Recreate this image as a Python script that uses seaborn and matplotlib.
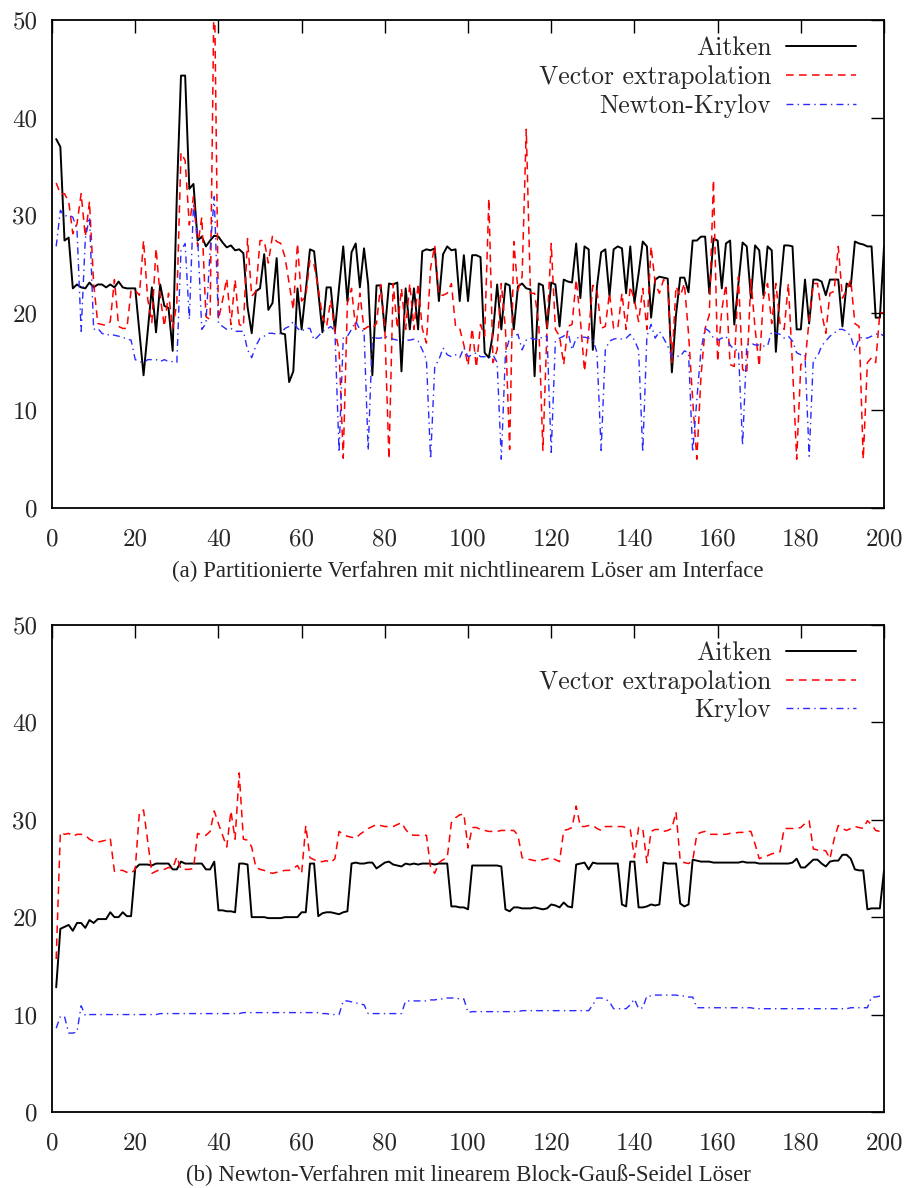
import numpy as np
import pandas as pd
import seaborn as sns
import matplotlib
matplotlib.use("Agg")
import matplotlib.pyplot as plt

# iteration index (time steps)
steps = list(range(1, 201))

# (a) partitioned schemes with nonlinear solver at the interface
aitken_a = [
    37.8, 37.0, 27.4, 27.7, 22.5, 22.9, 22.6, 22.5, 23.1, 22.6,
    22.9, 22.9, 22.6, 22.9, 22.6, 23.2, 22.6, 22.5, 22.5, 22.5,
    18.1, 13.6, 18.1, 22.6, 18.0, 22.9, 20.7, 20.5, 16.1, 32.0,
    44.3, 44.3, 32.7, 33.2, 27.4, 27.8, 26.8, 27.4, 27.9, 27.8,
    27.2, 26.7, 26.9, 26.4, 26.5, 26.1, 20.6, 17.9, 22.2, 22.5,
    26.0, 20.3, 21.0, 25.6, 17.9, 17.8, 12.9, 14.0, 22.5, 18.3,
    22.3, 26.5, 26.3, 22.2, 18.0, 22.6, 22.6, 18.1, 22.6, 26.8,
    21.2, 26.2, 27.1, 22.6, 26.6, 22.9, 13.6, 22.8, 22.8, 18.1,
    23.0, 22.9, 23.1, 14.0, 22.5, 18.3, 22.5, 18.3, 26.3, 26.5,
    26.4, 26.6, 21.2, 26.0, 26.8, 26.4, 26.5, 21.2, 25.9, 21.2,
    25.9, 25.9, 25.7, 15.9, 15.4, 17.9, 22.9, 18.3, 23.0, 22.8,
    18.3, 22.7, 23.0, 22.5, 22.4, 13.5, 23.0, 22.8, 18.4, 23.1,
    22.9, 18.6, 23.4, 23.2, 23.1, 27.1, 21.5, 26.8, 26.5, 16.2,
    22.7, 26.2, 26.5, 21.7, 26.5, 26.8, 26.6, 22.0, 26.8, 21.0,
    24.0, 27.3, 26.8, 19.5, 23.4, 23.7, 23.6, 23.5, 13.9, 19.8,
    23.6, 23.6, 22.1, 27.4, 27.4, 27.8, 27.8, 22.0, 27.6, 27.4,
    22.5, 27.1, 27.4, 18.8, 23.0, 27.2, 26.8, 21.5, 26.9, 26.4,
    21.8, 26.8, 26.4, 16.0, 22.3, 26.9, 26.9, 26.8, 18.3, 18.3,
    23.4, 18.9, 23.4, 23.4, 23.2, 21.8, 23.4, 23.4, 23.4, 18.6,
    23.0, 22.7, 27.3, 27.1, 27.0, 26.8, 26.8, 19.5, 19.5, 26.8,
]
vector_a = [
    33.3, 32.2, 32.2, 31.4, 28.1, 29.1, 32.2, 27.8, 31.4, 23.0,
    18.9, 18.8, 18.7, 19.1, 23.4, 18.6, 18.4, 18.4, 22.3, 22.3,
    21.8, 27.4, 21.4, 19.0, 26.6, 21.7, 18.6, 22.0, 18.4, 21.0,
    36.4, 35.6, 29.0, 31.9, 26.8, 29.8, 19.6, 19.3, 55.0, 19.3,
    21.3, 23.5, 18.8, 23.4, 18.8, 18.6, 27.6, 21.7, 22.2, 27.4,
    27.4, 25.1, 27.9, 27.3, 27.1, 25.7, 23.0, 20.3, 27.1, 21.2,
    21.7, 25.4, 24.9, 22.5, 19.6, 18.6, 21.3, 18.1, 16.2, 5.1,
    21.0, 22.5, 18.3, 22.0, 18.3, 18.6, 18.4, 18.9, 22.9, 18.4,
    5.0, 23.0, 18.4, 22.5, 18.3, 23.0, 18.3, 23.0, 18.4, 16.9,
    24.6, 26.9, 21.8, 21.8, 22.0, 23.0, 18.6, 18.4, 16.7, 14.6,
    18.4, 14.4, 18.8, 17.6, 31.7, 14.9, 16.2, 23.0, 18.3, 6.0,
    27.3, 22.3, 23.7, 38.8, 22.0, 22.0, 18.9, 5.9, 18.6, 27.1,
    18.3, 17.6, 14.7, 18.6, 18.8, 23.4, 19.3, 14.0, 18.1, 22.8,
    22.3, 18.4, 18.6, 22.0, 18.4, 18.4, 22.0, 18.3, 22.7, 21.3,
    19.1, 22.5, 18.3, 26.8, 23.0, 22.0, 23.4, 23.0, 14.9, 22.7,
    21.7, 23.0, 17.9, 11.1, 5.0, 13.5, 18.4, 19.8, 33.6, 15.0,
    20.3, 22.9, 14.7, 14.5, 23.7, 14.2, 13.8, 23.4, 18.4, 14.5,
    21.5, 23.0, 18.9, 23.0, 18.9, 18.3, 23.0, 14.5, 5.0, 14.7,
    14.9, 19.3, 23.0, 23.0, 20.0, 17.9, 22.0, 22.2, 26.8, 21.5,
    22.3, 23.4, 18.9, 18.6, 5.0, 14.9, 15.4, 14.9, 20.0, 20.0,
]
newton_krylov_a = [
    26.8, 30.5, 29.9, 30.0, 29.8, 28.5, 18.1, 27.6, 29.8, 18.3,
    18.4, 17.9, 17.7, 17.8, 17.7, 17.6, 17.5, 17.3, 17.2, 15.2,
    15.0, 14.9, 15.2, 15.2, 15.2, 15.0, 15.2, 15.0, 15.0, 14.9,
    26.4, 27.1, 19.3, 31.0, 27.8, 18.3, 18.9, 26.4, 31.9, 18.9,
    18.6, 18.3, 18.4, 18.1, 18.1, 18.1, 16.2, 15.4, 16.6, 17.4,
    17.6, 17.9, 17.9, 17.8, 17.9, 18.4, 18.6, 19.1, 18.4, 18.1,
    18.4, 18.4, 17.2, 17.6, 18.1, 18.3, 18.6, 18.1, 5.7, 17.4,
    17.6, 18.3, 19.1, 18.3, 18.1, 5.9, 17.6, 17.4, 17.4, 17.6,
    17.4, 17.3, 17.2, 17.2, 17.2, 17.2, 17.3, 17.1, 16.2, 15.2,
    5.0, 14.5, 15.2, 16.4, 15.7, 15.5, 15.7, 15.4, 16.4, 15.5,
    15.7, 15.9, 15.5, 15.5, 15.4, 15.7, 14.9, 5.0, 15.9, 17.4,
    17.6, 17.8, 16.2, 17.2, 17.4, 17.3, 17.2, 17.6, 17.6, 5.7,
    17.1, 17.4, 17.6, 18.1, 16.2, 17.4, 17.5, 17.5, 17.4, 17.3,
    15.9, 5.9, 16.2, 17.1, 17.3, 17.4, 17.3, 17.4, 17.8, 17.2,
    16.2, 5.7, 17.6, 18.8, 17.4, 18.1, 17.4, 16.6, 15.5, 15.6,
    15.5, 16.1, 15.9, 5.7, 11.1, 16.2, 18.4, 18.1, 17.4, 17.2,
    17.4, 17.6, 16.7, 16.2, 16.2, 6.4, 16.7, 16.9, 16.7, 16.7,
    16.6, 16.6, 18.1, 17.9, 17.8, 17.4, 17.6, 17.1, 15.9, 15.7,
    15.7, 5.3, 15.2, 15.5, 16.6, 17.1, 17.6, 17.9, 18.3, 18.3,
    18.1, 17.6, 16.1, 17.4, 17.5, 17.4, 17.6, 17.8, 17.9, 17.6,
]

# (b) Newton method with linear block Gauss-Seidel solver
aitken_b = [
    12.8, 18.8, 19.0, 19.2, 18.6, 19.4, 19.4, 18.9, 19.7, 19.4,
    19.8, 19.8, 19.8, 20.5, 20.0, 20.0, 20.5, 20.1, 20.1, 25.0,
    25.4, 25.4, 25.4, 25.3, 25.5, 25.5, 25.5, 25.5, 24.9, 24.9,
    25.7, 25.5, 25.5, 25.5, 25.5, 25.5, 24.9, 24.9, 25.7, 20.7,
    20.7, 20.6, 20.6, 20.5, 25.5, 25.5, 25.4, 20.0, 20.0, 20.0,
    20.0, 19.9, 19.9, 19.9, 19.9, 20.0, 20.0, 20.0, 20.0, 20.5,
    20.5, 25.5, 25.5, 20.1, 20.4, 20.5, 20.5, 20.4, 20.3, 20.5,
    20.6, 25.5, 25.6, 25.5, 25.5, 25.6, 25.6, 25.0, 25.3, 25.6,
    25.7, 25.4, 25.3, 25.2, 25.5, 25.4, 25.5, 25.4, 25.5, 25.5,
    25.5, 25.4, 25.5, 25.5, 25.5, 21.1, 21.1, 21.0, 21.0, 20.8,
    25.3, 25.3, 25.3, 25.3, 25.3, 25.3, 25.3, 25.2, 20.8, 20.6,
    21.0, 21.0, 20.9, 20.9, 20.9, 21.0, 20.9, 20.8, 20.9, 21.3,
    21.2, 21.0, 21.5, 21.1, 21.0, 25.4, 25.5, 25.6, 24.9, 25.6,
    25.5, 25.5, 25.5, 25.5, 25.5, 25.5, 21.3, 21.1, 25.7, 25.7,
    21.0, 21.0, 21.1, 21.3, 21.2, 21.3, 25.6, 25.5, 25.5, 25.5,
    21.4, 21.1, 21.3, 25.9, 25.8, 25.7, 25.7, 25.7, 25.6, 25.6,
    25.6, 25.6, 25.6, 25.6, 25.6, 25.7, 25.6, 25.6, 25.6, 25.5,
    25.5, 25.5, 25.5, 25.5, 25.5, 25.5, 25.5, 25.6, 26.0, 25.1,
    25.1, 25.5, 25.9, 25.9, 25.5, 25.2, 25.7, 25.8, 25.8, 26.4,
    26.4, 26.0, 24.9, 24.8, 24.8, 20.8, 20.9, 20.9, 20.9, 24.8,
]
vector_b = [
    15.7, 28.7, 28.5, 28.6, 28.3, 28.5, 28.5, 28.4, 28.0, 27.8,
    27.7, 27.8, 27.9, 28.1, 24.7, 24.8, 24.8, 24.6, 24.5, 24.9,
    30.8, 31.0, 27.8, 24.5, 24.7, 24.9, 24.9, 25.1, 25.0, 26.2,
    24.9, 24.9, 24.9, 25.0, 28.6, 28.4, 28.4, 28.8, 30.9, 29.6,
    28.4, 27.2, 30.9, 28.0, 34.8, 28.0, 27.9, 27.2, 25.1, 24.9,
    24.8, 24.6, 24.5, 24.6, 24.7, 24.8, 24.8, 25.0, 25.3, 24.5,
    29.4, 26.1, 25.9, 25.7, 25.7, 25.8, 25.6, 26.0, 28.8, 28.5,
    28.3, 28.2, 28.1, 28.5, 28.8, 29.1, 29.3, 29.5, 29.4, 29.3,
    29.3, 29.3, 29.5, 29.7, 29.0, 28.5, 28.4, 28.4, 28.4, 28.4,
    25.1, 24.5, 25.6, 25.9, 26.1, 29.7, 30.2, 30.5, 30.6, 27.1,
    29.2, 29.2, 29.0, 28.9, 28.8, 28.8, 28.8, 28.9, 28.9, 28.9,
    28.9, 28.4, 26.1, 26.0, 25.9, 25.8, 25.8, 25.9, 26.0, 26.1,
    25.9, 25.7, 28.9, 29.0, 29.2, 31.4, 29.3, 29.3, 29.4, 29.4,
    29.1, 28.9, 29.3, 29.3, 29.3, 29.3, 29.3, 29.2, 29.0, 26.1,
    29.2, 29.1, 25.6, 28.8, 29.0, 29.0, 28.8, 28.9, 29.1, 30.8,
    25.8, 25.6, 25.5, 25.8, 28.5, 28.7, 28.8, 28.5, 28.5, 28.5,
    28.5, 28.5, 28.6, 28.6, 28.7, 28.7, 28.8, 28.8, 27.5, 26.0,
    26.2, 26.3, 26.5, 26.6, 26.7, 29.1, 29.1, 29.1, 29.1, 29.2,
    29.6, 29.9, 27.0, 26.9, 26.9, 26.8, 26.0, 28.0, 29.4, 29.1,
    28.9, 29.1, 29.3, 29.2, 29.1, 29.9, 29.5, 28.9, 28.8, 28.7,
]
krylov_b = [
    8.6, 9.8, 9.8, 8.1, 8.1, 8.2, 10.9, 9.9, 10.0, 10.0,
    10.0, 10.0, 10.0, 10.0, 10.0, 10.0, 10.0, 10.0, 10.0, 10.0,
    10.0, 10.0, 10.0, 10.0, 10.0, 10.1, 10.1, 10.1, 10.1, 10.1,
    10.1, 10.1, 10.1, 10.1, 10.1, 10.1, 10.1, 10.1, 10.1, 10.1,
    10.1, 10.1, 10.1, 10.1, 10.1, 10.2, 10.2, 10.2, 10.2, 10.2,
    10.2, 10.2, 10.2, 10.2, 10.2, 10.2, 10.2, 10.2, 10.2, 10.2,
    10.2, 10.2, 10.2, 10.2, 10.1, 10.1, 10.0, 10.0, 10.0, 11.4,
    11.4, 11.3, 11.2, 11.1, 11.0, 10.1, 10.1, 10.1, 10.1, 10.1,
    10.1, 10.1, 10.1, 10.1, 11.4, 11.4, 11.4, 11.4, 11.4, 11.4,
    11.5, 11.5, 11.6, 11.6, 11.7, 11.7, 11.7, 11.6, 11.6, 10.2,
    10.3, 10.3, 10.3, 10.3, 10.3, 10.3, 10.3, 10.3, 10.3, 10.3,
    10.3, 10.3, 10.4, 10.4, 10.4, 10.4, 10.4, 10.4, 10.4, 10.4,
    10.4, 10.4, 10.4, 10.4, 10.4, 10.4, 10.4, 10.4, 10.4, 11.0,
    11.7, 11.7, 11.6, 11.3, 10.6, 10.6, 10.6, 10.6, 11.0, 11.6,
    10.6, 10.7, 11.9, 11.9, 12.0, 12.0, 12.0, 12.0, 12.0, 12.0,
    11.9, 11.9, 11.8, 11.8, 10.7, 10.7, 10.7, 10.7, 10.7, 10.7,
    10.7, 10.7, 10.7, 10.7, 10.7, 10.7, 10.7, 10.7, 10.6, 10.6,
    10.6, 10.6, 10.6, 10.6, 10.6, 10.6, 10.6, 10.6, 10.6, 10.6,
    10.6, 10.6, 10.6, 10.6, 10.6, 10.6, 10.6, 10.6, 10.6, 10.6,
    10.6, 10.7, 10.7, 10.7, 10.7, 10.7, 11.8, 11.8, 11.9, 12.0,
]

labels_a = ["Aitken", "Vector extrapolation", "Newton-Krylov"]
labels_b = ["Aitken", "Vector extrapolation", "Krylov"]
caption_a = "(a) Partitionierte Verfahren mit nichtlinearem Löser am Interface"
caption_b = "(b) Newton-Verfahren mit linearem Block-Gauß-Seidel Löser"
x_ticks = list(range(0, 201, 20))
y_ticks = list(range(0, 51, 10))

sns.set_style("white")
plt.rcParams["axes.unicode_minus"] = False

STYLES = [
    dict(color="black", linestyle="-", linewidth=1.4),
    dict(color="#ff0000", linestyle=(0, (5, 3.5)), linewidth=1.1),
    dict(color="#2a2aff", linestyle=(0, (5, 3, 1, 3)), linewidth=1.0),
]
TICK_FONT = "cmr10"
FS = 18.5


def draw_panel(ax, series, labels, caption):
    for vals, lab, st in zip(series, labels, STYLES):
        df = pd.DataFrame({"step": steps, "value": vals})
        sns.lineplot(data=df, x="step", y="value", ax=ax, label=lab,
                     errorbar=None, **st)
    ax.set_xlim(0, 200)
    ax.set_ylim(0, 50)
    ax.set_xticks(x_ticks)
    ax.set_yticks(y_ticks)
    ax.set_xlabel("")
    ax.set_ylabel("")
    ax.tick_params(direction="in", length=9.5, width=1.0, top=True,
                   right=True, labelsize=18, color="black")
    ax.tick_params(axis="x", pad=14.5)
    ax.tick_params(axis="y", pad=10.5)
    for lab in ax.get_xticklabels() + ax.get_yticklabels():
        lab.set_fontfamily(TICK_FONT)
    for sp in ax.spines.values():
        sp.set_linewidth(1.3)
        sp.set_color("black")
    ax.legend(loc="upper right", bbox_to_anchor=(0.9665, 0.967),
              frameon=False, markerfirst=False, handlelength=2.72,
              handletextpad=0.58, labelspacing=0.2, borderpad=0,
              borderaxespad=0, prop={"family": TICK_FONT, "size": FS})
    ax.text(0.5, -0.13, caption, transform=ax.transAxes, ha="center",
            va="center", fontsize=16.5, family="Liberation Serif")


fig = plt.figure(figsize=(9.08, 11.88), dpi=100)
ax_a = fig.add_axes([0.0573, 0.5724, 0.9163, 0.4108])
ax_b = fig.add_axes([0.0573, 0.0640, 0.9163, 0.4100])

draw_panel(ax_a, [aitken_a, vector_a, newton_krylov_a], labels_a, caption_a)
draw_panel(ax_b, [aitken_b, vector_b, krylov_b], labels_b, caption_b)

fig.savefig("out.png", dpi=100)
